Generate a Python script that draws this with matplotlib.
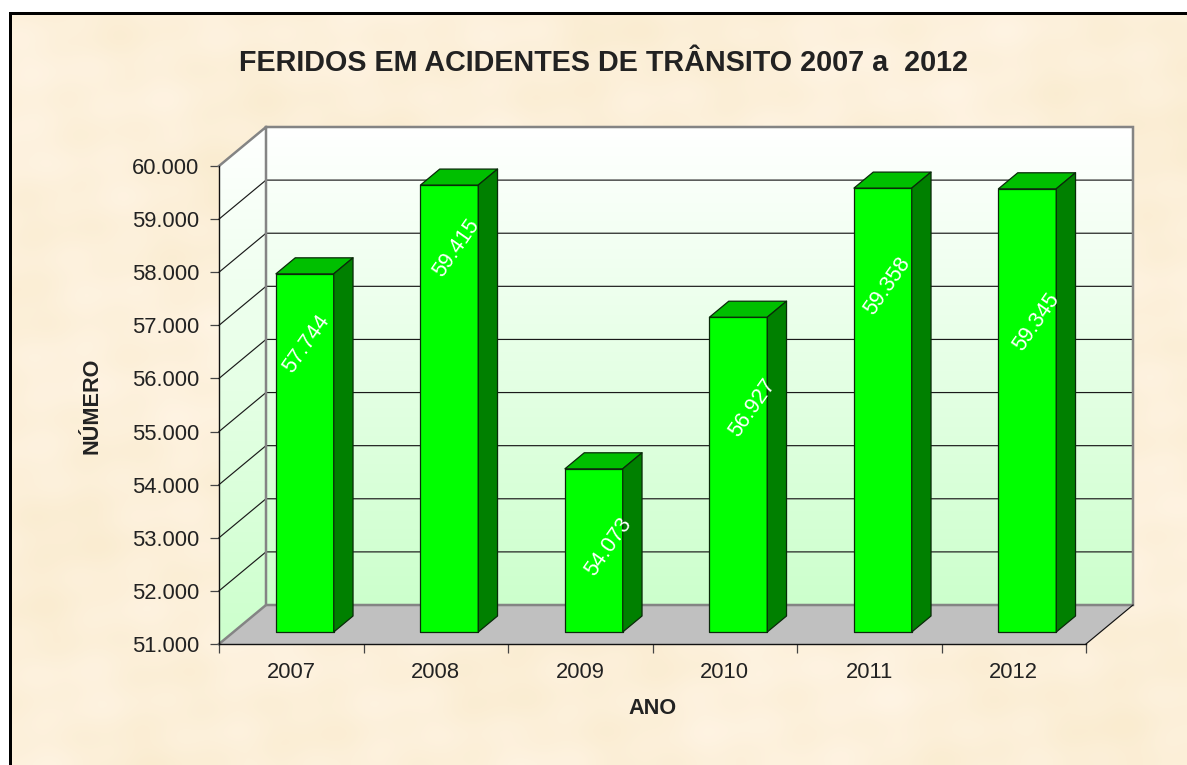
import matplotlib
matplotlib.use('Agg')
import matplotlib.pyplot as plt
import numpy as np
from matplotlib.lines import Line2D
from matplotlib.patches import Polygon, Rectangle

plt.rcParams['font.family'] = ['Liberation Sans', 'DejaVu Sans']

anos = ['2007', '2008', '2009', '2010', '2011', '2012']
feridos = [57744, 59415, 54073, 56927, 59358, 59345]
ticks_y = [51000, 52000, 53000, 54000, 55000, 56000, 57000, 58000, 59000, 60000]

# posicao dos rotulos em pixels da imagem, como no original
rotulos_px = [(306.5, 343.5), (456.5, 248.5), (608.5, 546.5), (752.5, 407.5), (887.5, 286), (1036.5, 322.5)]

W, H = 1187, 765
Y_MIN, Y_MAX = 51000, 60000
TEXTO = '#222222'


def rect_px(x0, y0, x1, y1):
    return [x0 / W, 1 - y1 / H, (x1 - x0) / W, (y1 - y0) / H]


fig = plt.figure(figsize=(W / 100, H / 100), dpi=100, facecolor='white')

# fundo de pergaminho
fundo = fig.add_axes(rect_px(10, 13, W, H), zorder=0)
fundo.axis('off')
yy, xx = np.mgrid[0:1:200j, 0:1:300j]
manchas = (0.8 * np.sin(13 * xx + 5 * yy + 0.7) * np.sin(11 * yy - 3 * xx)
           + 0.7 * np.sin(37 * xx - 17 * yy + 1.9) * np.sin(29 * yy + 9 * xx)
           + 0.5 * np.sin(71 * xx + 43 * yy) * np.sin(59 * yy - 41 * xx + 0.4))
manchas = (manchas - manchas.min()) / (manchas.max() - manchas.min())
cor_a = np.array([250, 236, 208]) / 255
cor_b = np.array([255, 244, 228]) / 255
fundo.imshow(cor_a + (cor_b - cor_a) * manchas[..., None], aspect='auto', interpolation='bicubic')

# eixo principal: plano frontal do grafico
ax = fig.add_axes(rect_px(219, 166, 1086, 644), zorder=1)
ax.patch.set_visible(False)
ax.set_xlim(-0.5, 5.5)
ax.set_ylim(Y_MIN, Y_MAX)

# profundidade do grafico em unidades dos eixos
DX = 47 / (867 / 6)
DY = 39 / (478 / 9000)
X0, X1 = -0.5, 5.5

gradiente = np.linspace(0, 1, 256)[:, None, None] * (np.array([204, 255, 204]) / 255 - 1) + 1

# parede do fundo
im = ax.imshow(gradiente, extent=(X0 + DX, X1 + DX, Y_MIN + DY, Y_MAX + DY), aspect='auto', zorder=1, clip_on=False)

# parede da esquerda
lateral = Polygon([(X0, Y_MIN), (X0 + DX, Y_MIN + DY), (X0 + DX, Y_MAX + DY), (X0, Y_MAX)],
                  closed=True, facecolor='none', edgecolor='none', transform=ax.transData)
ax.add_patch(lateral)
lateral.set_clip_on(False)
im2 = ax.imshow(gradiente, extent=(X0, X0 + DX, Y_MIN, Y_MAX + DY), aspect='auto', zorder=1)
im2.set_clip_path(lateral)
im2.set_clip_box(fig.bbox)

ax.set_xlim(-0.5, 5.5)
ax.set_ylim(Y_MIN, Y_MAX)

# chao
ax.add_patch(Polygon([(X0, Y_MIN), (X1, Y_MIN), (X1 + DX, Y_MIN + DY), (X0 + DX, Y_MIN + DY)],
                     closed=True, facecolor='#C0C0C0', edgecolor='none', zorder=2, clip_on=False))

# linhas de grade
for v in ticks_y[1:-1]:
    ax.plot([X0, X0 + DX, X1 + DX], [v, v + DY, v + DY], color='#1a1a1a', lw=0.85, zorder=3, clip_on=False)

# contorno cinza das paredes
ax.plot([X0, X0 + DX, X1 + DX, X1 + DX, X0 + DX, X0 + DX],
        [Y_MAX, Y_MAX + DY, Y_MAX + DY, Y_MIN + DY, Y_MIN + DY, Y_MAX + DY],
        color='#848484', lw=1.8, zorder=4, clip_on=False, solid_joinstyle='miter')
ax.plot([X0, X0 + DX], [Y_MIN, Y_MIN + DY], color='#848484', lw=1.8, zorder=4, clip_on=False)
ax.plot([X1, X1 + DX], [Y_MIN, Y_MIN + DY], color='#111111', lw=0.85, zorder=4, clip_on=False)

# barras
LARG = 0.2
P0, P1 = 12 / 39, 28 / 39
AJUSTE = -0.006
for i, v in enumerate(feridos):
    esq, dir_ = i - LARG + P0 * DX + AJUSTE, i + LARG + P0 * DX + AJUSTE
    base, topo = Y_MIN + P0 * DY, v + P0 * DY
    ddx, ddy = (P1 - P0) * DX, (P1 - P0) * DY
    z = 5 + i
    borda = dict(edgecolor='#0a2a0a', linewidth=0.9, joinstyle='round', zorder=z, clip_on=False)
    ax.add_patch(Rectangle((esq, base), dir_ - esq, topo - base, facecolor='#00FF00', **borda))
    ax.add_patch(Polygon([(esq, topo), (dir_, topo), (dir_ + ddx, topo + ddy), (esq + ddx, topo + ddy)],
                         closed=True, facecolor='#00BF00', **borda))
    ax.add_patch(Polygon([(dir_, base), (dir_ + ddx, base + ddy), (dir_ + ddx, topo + ddy), (dir_, topo)],
                         closed=True, facecolor='#008000', **borda))

# eixos
for lado in ['top', 'right']:
    ax.spines[lado].set_visible(False)
for lado in ['left', 'bottom']:
    ax.spines[lado].set_color('#111111')
    ax.spines[lado].set_linewidth(1.0)
    ax.spines[lado].set_zorder(20)

ax.set_yticks(ticks_y)
ax.set_yticklabels([f'{v:,}'.replace(',', '.') for v in ticks_y], fontsize=15.8, color=TEXTO)
ax.tick_params(axis='y', length=6.2, width=0.9, color='#444444', pad=7.8)

ax.set_xticks(range(len(anos)))
ax.set_xticklabels(anos, fontsize=15.8, color=TEXTO)
ax.set_xticks(np.arange(-0.5, 6), minor=True)
ax.tick_params(axis='x', which='major', length=0, pad=13)
ax.tick_params(axis='x', which='minor', length=6.2, width=0.9, color='#444444')

# rotulos de valor
for v, (px, py) in zip(feridos, rotulos_px):
    fig.text(px / W, 1 - py / H, f'{v:,}'.replace(',', '.'), color='white', fontsize=15.5, rotation=55,
             ha='center', va='center', zorder=30)

fig.text(604 / W, 1 - 63 / H, 'FERIDOS EM ACIDENTES DE TRÂNSITO 2007 a  2012', fontsize=20.7, fontweight='bold',
         color=TEXTO, ha='center', va='center')
fig.text(653 / W, 1 - 709 / H, 'ANO', fontsize=15.6, fontweight='bold', color=TEXTO, ha='center', va='center')
fig.text(92 / W, 1 - 406 / H, 'NÚMERO', fontsize=15.6, fontweight='bold', color=TEXTO, rotation=90,
         ha='center', va='center')

# moldura preta
fig.add_artist(Rectangle((9 / W, 1 - 15 / H), (W - 9) / W, 3 / H, transform=fig.transFigure, facecolor='black',
                         edgecolor='none', zorder=40))
fig.add_artist(Rectangle((9 / W, 0), 3 / W, 1 - 12 / H, transform=fig.transFigure, facecolor='black',
                         edgecolor='none', zorder=40))

fig.savefig('out.png', dpi=100)
